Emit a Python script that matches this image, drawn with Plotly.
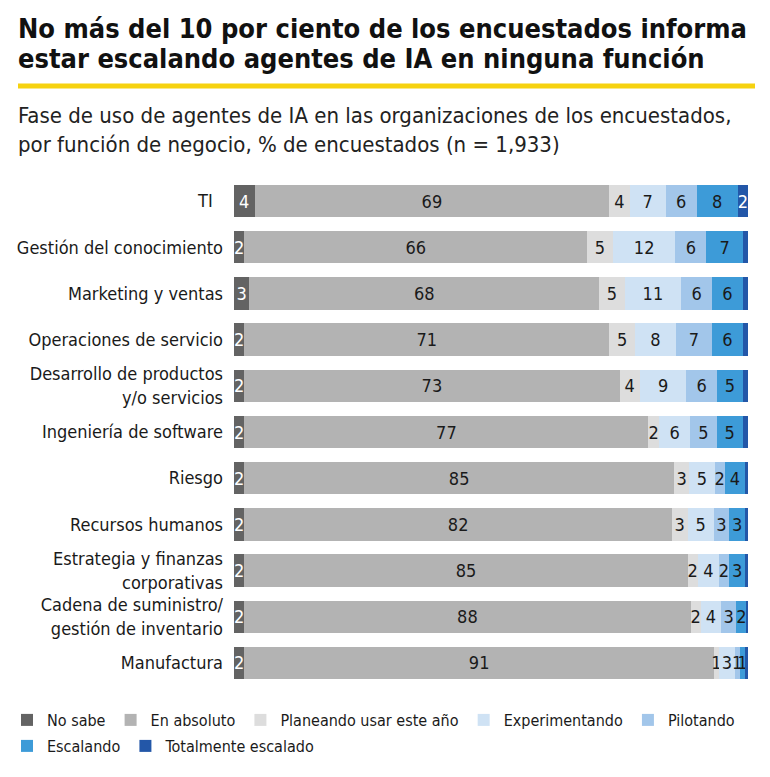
import plotly.graph_objects as go

categories = [
    "TI\u00a0\u00a0",
    "Gestión del conocimiento",
    "Marketing y ventas",
    "Operaciones de servicio",
    "Desarrollo de productos<br>y/o servicios",
    "Ingeniería de software",
    "Riesgo",
    "Recursos humanos",
    "Estrategia y finanzas<br>corporativas",
    "Cadena de suministro/<br>gestión de inventario",
    "Manufactura",
]

no_sabe = [4, 2, 3, 2, 2, 2, 2, 2, 2, 2, 2]
en_absoluto = [69, 66, 68, 71, 73, 77, 85, 82, 85, 88, 91]
planeando = [4, 5, 5, 5, 4, 2, 3, 3, 2, 2, 1]
experimentando = [7, 12, 11, 8, 9, 6, 5, 5, 4, 4, 3]
pilotando = [6, 6, 6, 7, 6, 5, 2, 3, 2, 3, 1]
escalando = [8, 7, 6, 6, 5, 5, 4, 3, 3, 2, 1]
totalmente = [2, 1, 1, 1, 1, 1, 0.6, 0.6, 0.6, 0.3, 0.6]
totalmente_labels = ["2", "", "", "", "", "", "", "", "", "", ""]

series_names = ["No sabe", "En absoluto", "Planeando usar este año", "Experimentando",
                "Pilotando", "Escalando", "Totalmente escalado"]
series_values = [no_sabe, en_absoluto, planeando, experimentando, pilotando, escalando, totalmente]
colors = ["#636363", "#b3b3b3", "#dddddd", "#cfe2f4", "#a2c6ea", "#3d9bd8", "#2357a8"]
text_colors = ["white", "#1a1a1a", "#1a1a1a", "#1a1a1a", "#1a1a1a", "#1a1a1a", "white"]
legend_rows = ["legend", "legend", "legend", "legend", "legend", "legend2", "legend2"]

title_lines = ["No más del 10 por ciento de los encuestados informa",
               "estar escalando agentes de IA en ninguna función"]
subtitle_lines = ["Fase de uso de agentes de IA en las organizaciones de los encuestados,",
                  "por función de negocio, % de encuestados (n = 1,933)"]

FONT = "DejaVu Sans Condensed, Liberation Sans Narrow, Arial Narrow, sans-serif"

fig = go.Figure()
for i, (name, vals) in enumerate(zip(series_names, series_values)):
    if name == "Totalmente escalado":
        texts = totalmente_labels
    else:
        texts = [str(v) for v in vals]
    fig.add_trace(go.Bar(
        y=categories, x=vals, name=name, orientation="h",
        marker=dict(color=colors[i], line=dict(width=0)),
        text=texts, textposition="inside", insidetextanchor="middle",
        textfont=dict(family=FONT, size=18, color=text_colors[i]),
        constraintext="none", cliponaxis=False,
        legend=legend_rows[i],
    ))

L, T, R, B = 234, 178, 22, 91
W, H = 770, 777
pw, ph = W - L - R, H - T - B

def px(x):
    return (x - L) / pw

def py(y):
    return (H - B - y) / ph

legend_common = dict(orientation="h", xref="paper", yref="paper",
                     xanchor="left", yanchor="top",
                     font=dict(family=FONT, size=16, color="#1a1a1a"),
                     itemwidth=30, traceorder="normal", bgcolor="rgba(0,0,0,0)")

fig.update_layout(
    width=W, height=H,
    margin=dict(l=L, r=R, t=T, b=B, autoexpand=False),
    barmode="stack", barnorm="percent", bargap=0.3,
    plot_bgcolor="white", paper_bgcolor="white",
    font=dict(family=FONT, color="#1a1a1a"),
    uniformtext=dict(minsize=18, mode="show"),
    showlegend=True,
    legend=dict(x=px(7), y=py(703), **legend_common),
    legend2=dict(x=px(7), y=py(729), **legend_common),
    xaxis=dict(visible=False, range=[0, 100], fixedrange=True),
    yaxis=dict(autorange="reversed", showgrid=False, zeroline=False, showline=False,
               ticks="", ticklabelstandoff=10, automargin=False,
               tickfont=dict(family=FONT, size=18, color="#1a1a1a")),
)

for line, yc in zip(title_lines, [28, 59]):
    fig.add_annotation(
        text="<b>" + line + "</b>",
        xref="paper", yref="paper", x=px(16), y=py(yc), xanchor="left", yanchor="middle",
        align="left", showarrow=False,
        font=dict(family=FONT, size=27, color="#111111"),
    )
fig.add_shape(type="line", xref="paper", yref="paper",
              x0=px(18), x1=px(755), y0=py(86), y1=py(86),
              line=dict(color="#f6d20f", width=5))
for line, yc in zip(subtitle_lines, [115, 145]):
    fig.add_annotation(
        text=line,
        xref="paper", yref="paper", x=px(16), y=py(yc), xanchor="left", yanchor="middle",
        align="left", showarrow=False,
        font=dict(family=FONT, size=22, color="#222222"),
    )

fig.write_html("out.html")
